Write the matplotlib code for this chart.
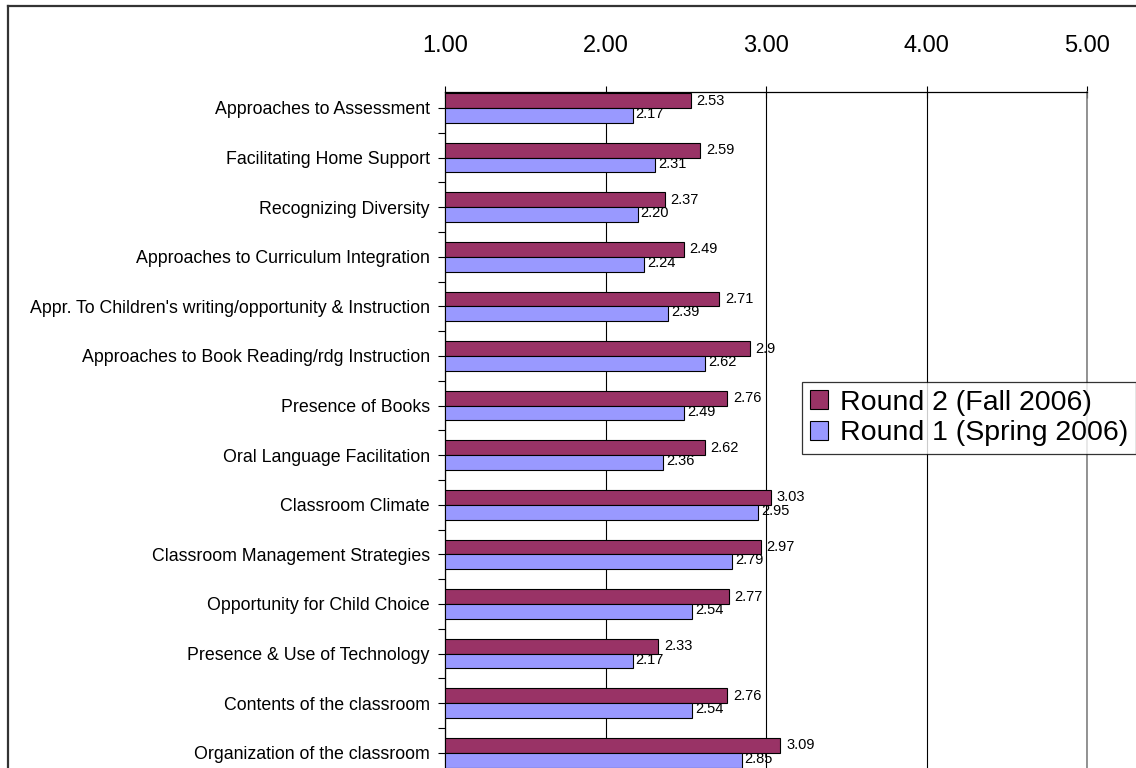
import matplotlib.pyplot as plt
import matplotlib.lines as mlines
import numpy as np

plt.rcParams['font.family'] = ['Liberation Sans', 'DejaVu Sans']

categories = [
    "Approaches to Assessment",
    "Facilitating Home Support",
    "Recognizing Diversity",
    "Approaches to Curriculum Integration",
    "Appr. To Children's writing/opportunity & Instruction",
    "Approaches to Book Reading/rdg Instruction",
    "Presence of Books",
    "Oral Language Facilitation",
    "Classroom Climate",
    "Classroom Management Strategies",
    "Opportunity for Child Choice",
    "Presence & Use of Technology",
    "Contents of the classroom",
    "Organization of the classroom",
]
round2 = [2.53, 2.59, 2.37, 2.49, 2.71, 2.90, 2.76, 2.62, 3.03, 2.97, 2.77, 2.33, 2.76, 3.09]
round1 = [2.17, 2.31, 2.20, 2.24, 2.39, 2.62, 2.49, 2.36, 2.95, 2.79, 2.54, 2.17, 2.54, 2.85]
round2_text = ["2.53", "2.59", "2.37", "2.49", "2.71", "2.9", "2.76", "2.62",
               "3.03", "2.97", "2.77", "2.33", "2.76", "3.09"]
round1_text = ["2.17", "2.31", "2.20", "2.24", "2.39", "2.62", "2.49", "2.36",
               "2.95", "2.79", "2.54", "2.17", "2.54", "2.85"]
xticks = [1, 2, 3, 4, 5]

c2 = '#993366'
c1 = '#9999FF'

W, H = 1136, 768
fig = plt.figure(figsize=(W / 100, H / 100), dpi=100)

# plot area in pixels: x 445..1087, top 92, runs off the bottom
y0_px, step_px = 108, 49.6
top_px = 92
ytop = -(y0_px - top_px) / step_px
ybot = 13.5
bot_px = y0_px + ybot * step_px
ax = fig.add_axes([445 / W, (H - bot_px) / H, 642 / W, (bot_px - top_px) / H])

y = np.arange(len(categories))
bh = 0.30
ax.barh(y - bh / 2, np.array(round2) - 1, left=1, height=bh, color=c2,
        edgecolor='black', linewidth=0.8, label='Round 2 (Fall 2006)', zorder=3)
ax.barh(y + bh / 2, np.array(round1) - 1, left=1, height=bh, color=c1,
        edgecolor='black', linewidth=0.8, label='Round 1 (Spring 2006)', zorder=3)

for i in range(len(categories)):
    ax.annotate(round2_text[i], (round2[i], y[i] - bh / 2), xytext=(4, 0),
                textcoords='offset points', va='center', ha='left', fontsize=10.5)
    ax.annotate(round1_text[i], (round1[i], y[i] + bh / 2 - 0.03), xytext=(2, 0),
                textcoords='offset points', va='center', ha='left', fontsize=10.5)

ax.xaxis.tick_top()
ax.set_xticks(xticks)
ax.set_xticklabels(['%.2f' % v for v in xticks], fontsize=17)
ax.tick_params(axis='x', direction='inout', length=8, width=0.8, pad=21)
ax.set_yticks(y)
ax.set_yticklabels(categories, fontsize=12.8)
ax.set_yticks(np.arange(-0.5, len(categories), 1), minor=True)
ax.tick_params(axis='y', which='both', direction='out', length=5, width=0.8, pad=6)
ax.set_xlim(1, 5)
ax.set_ylim(ybot, ytop)
ax.grid(axis='x', color='black', linewidth=0.8, zorder=0)
ax.spines['bottom'].set_visible(False)
ax.spines['right'].set_color('#808080')
ax.spines['right'].set_linewidth(1.2)
for s in ['top', 'left']:
    ax.spines[s].set_linewidth(0.9)

leg = fig.legend(loc='upper left', bbox_to_anchor=(802 / W, 1 - 382 / H),
                 fontsize=20.5, frameon=True, fancybox=False, borderpad=0.28,
                 handlelength=0.65, handleheight=0.65, handletextpad=0.4,
                 labelspacing=0.15, borderaxespad=0)
leg.get_frame().set_edgecolor('black')
leg.get_frame().set_linewidth(0.9)
for h in leg.legend_handles:
    h.set_edgecolor('black')
    h.set_linewidth(0.8)

# outer chart border (cropped on right and bottom)
fig.add_artist(mlines.Line2D([8 / W, 8 / W], [1 - 6 / H, 0], color='#333333', lw=1.6))
fig.add_artist(mlines.Line2D([8 / W, 1], [1 - 6 / H, 1 - 6 / H], color='#333333', lw=1.6))

fig.savefig('out.png', dpi=100)
